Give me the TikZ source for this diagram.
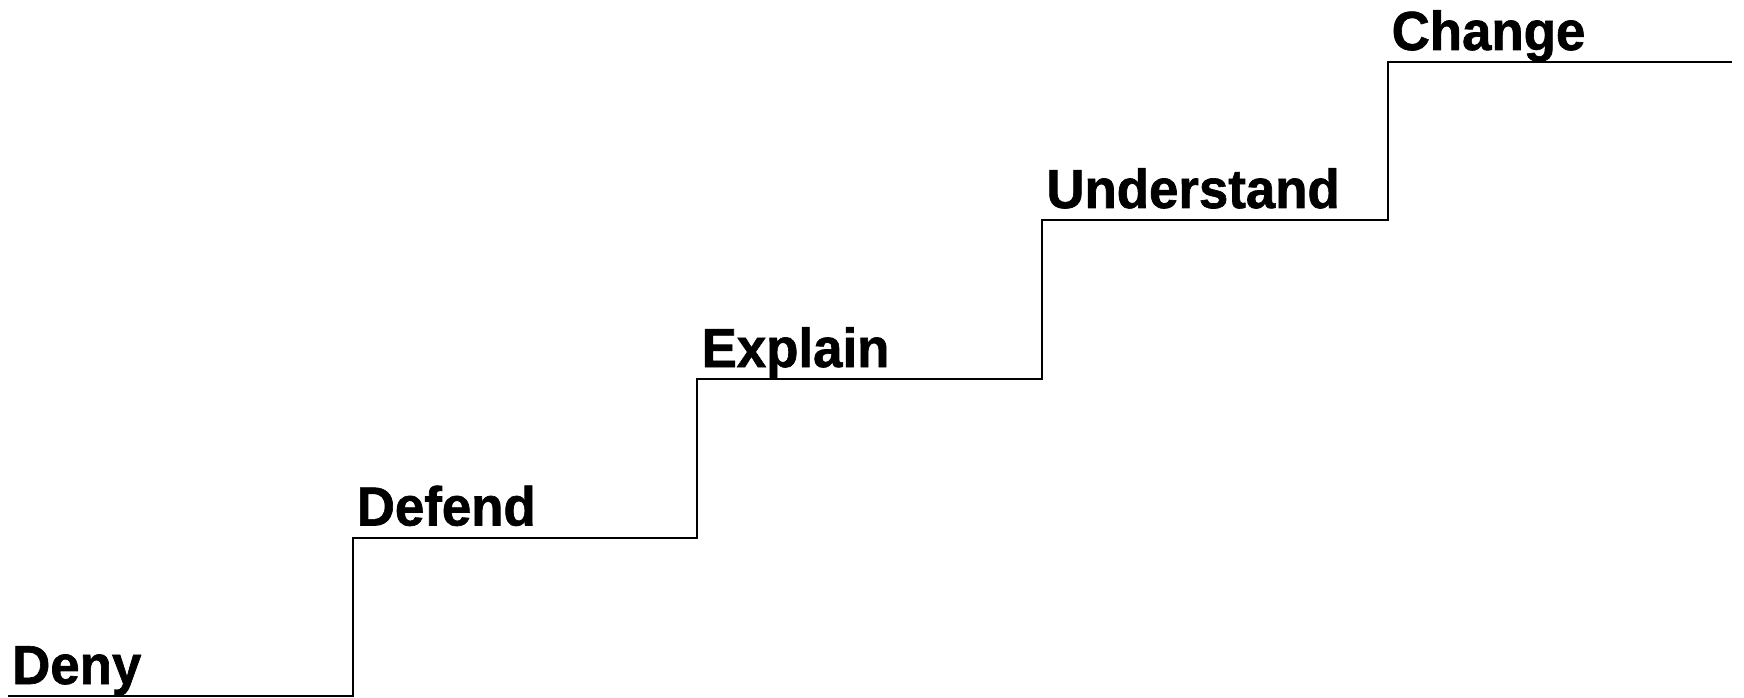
\documentclass[tikz,border=0pt]{standalone}
\usepackage{fontspec}
\setmainfont{Liberation Sans}[FakeStretch=0.96,BoldFeatures={FakeBold=1.2}]
\begin{document}
\begin{tikzpicture}[x=1pt,y=1pt,
  stair/.style={line width=2pt,line join=miter},
  steplabel/.style={anchor=base west,inner sep=0pt,font=\fontsize{55}{60}\selectfont\bfseries}]
\useasboundingbox (0,0) rectangle (1744,697);
% corners of the staircase
\coordinate (s0) at (8,1);
\coordinate (c1) at (352.6,1);
\coordinate (t1) at (352.6,159.5);
\coordinate (c2) at (697.4,159.5);
\coordinate (t2) at (697.4,318);
\coordinate (c3) at (1042.2,318);
\coordinate (t3) at (1042.2,477);
\coordinate (c4) at (1387.5,477);
\coordinate (t4) at (1387.5,635);
\coordinate (e)  at (1732,635);
\draw[stair] (s0) -- (c1) -- (t1) -- (c2) -- (t2) -- (c3) -- (t3) -- (c4) -- (t4) -- (e);
% labels on each tread
\node[steplabel] (deny)    at ([xshift=4pt,yshift=12pt]s0) {Deny};
\node[steplabel] (defend)  at ([xshift=4pt,yshift=12pt]t1) {Defend};
\node[steplabel] (explain) at ([xshift=4pt,yshift=12pt]t2) {Explain};
\node[steplabel] (underst) at ([xshift=4pt,yshift=12pt]t3) {Understand};
\node[steplabel] (change)  at ([xshift=4pt,yshift=12pt]t4) {Change};
\end{tikzpicture}
\end{document}
